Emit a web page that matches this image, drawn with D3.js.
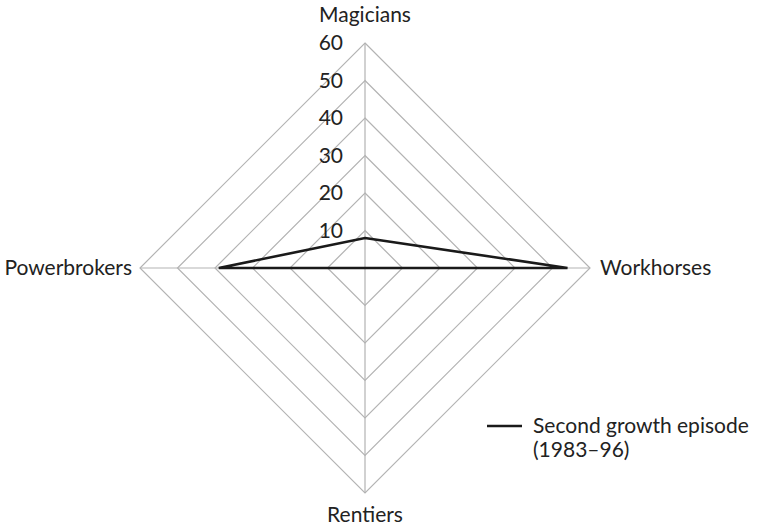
<!DOCTYPE html>
<html><head><meta charset="utf-8">
<script src="https://cdn.jsdelivr.net/npm/d3@7"></script>
<style>body{margin:0;background:#fff}text{font-family:Lato,"Open Sans",sans-serif;fill:#222}</style>
</head><body><svg id="c" width="758" height="529"></svg>
<script>
const axes = ["Magicians","Workhorses","Rentiers","Powerbrokers"];
const values = [8, 54, 0, 39];
const ticks = [10,20,30,40,50,60];
const seriesName = ["Second growth episode","(1983–96)"];

const svg = d3.select("#c");
const cx = 365, cy = 268, R = 225;
const r = d3.scaleLinear().domain([0,60]).range([0,R]);
const ang = d3.scalePoint().domain(axes).range([0, 270]); // degrees clockwise from top
const pt = (a, v) => { const t = ang(a)*Math.PI/180; return [cx + r(v)*Math.sin(t), cy - r(v)*Math.cos(t)]; };

const g = svg.append("g");
ticks.forEach(t => {
  g.append("polygon").attr("points", axes.map(a => pt(a,t).join(",")).join(" "))
   .attr("fill","none").attr("stroke","#b3b3b3").attr("stroke-width",1.2);
});
axes.forEach(a => {
  const p = pt(a, 60);
  g.append("line").attr("x1",cx).attr("y1",cy).attr("x2",p[0]).attr("y2",p[1])
   .attr("stroke","#b3b3b3").attr("stroke-width",1.2);
});
ticks.forEach(t => {
  g.append("text").attr("x", cx-22).attr("y", cy - r(t)).attr("dy","0.35em")
   .attr("text-anchor","end").attr("font-size",21).text(t);
});
const lab = {Magicians:[0,-28,"middle"], Workhorses:[10,0,"start"], Rentiers:[0,22,"middle"], Powerbrokers:[-8,0,"end"]};
axes.forEach(a => {
  const p = pt(a,60), o = lab[a];
  g.append("text").attr("x",p[0]+o[0]).attr("y",p[1]+o[1]).attr("dy","0.35em")
   .attr("text-anchor",o[2]).attr("font-size",21).text(a);
});
g.append("polygon").attr("points", axes.map((a,i) => pt(a, values[i]).join(",")).join(" "))
 .attr("fill","none").attr("stroke","#1a1a1a").attr("stroke-width",2.6).attr("stroke-linejoin","miter");

const lg = svg.append("g");
lg.append("line").attr("x1",487).attr("x2",522).attr("y1",426).attr("y2",426).attr("stroke","#1a1a1a").attr("stroke-width",2.6);
seriesName.forEach((s,i) => lg.append("text").attr("x",533).attr("y",433+i*24).attr("font-size",21).text(s));
</script></body></html>
